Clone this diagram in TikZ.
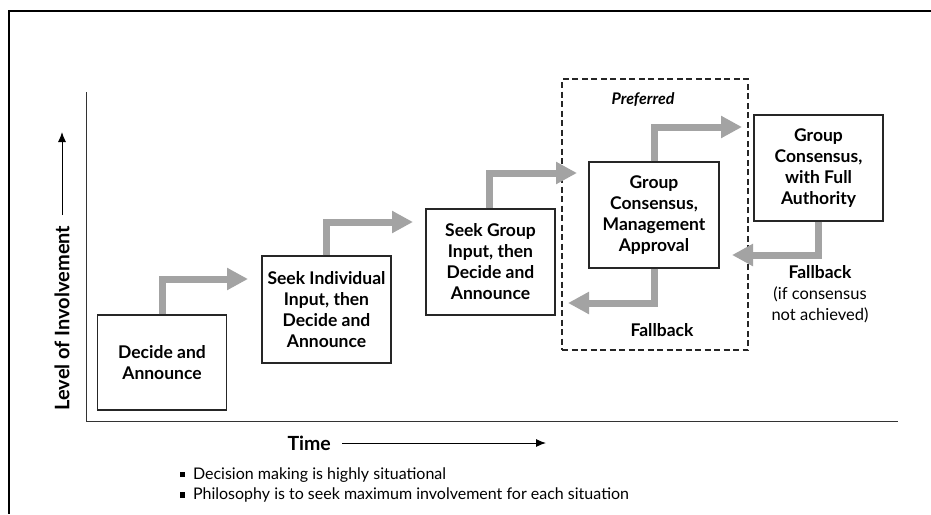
\documentclass[tikz,border=0pt]{standalone}
\usepackage{fontspec}
\setmainfont{Lato}
\usetikzlibrary{arrows.meta}
\begin{document}
\begin{tikzpicture}[x=1pt,y=-1pt,
  stepbox/.style={draw=black!85,line width=1.1pt,fill=white,align=center,
    inner sep=0pt,font=\fontsize{17.5}{21}\selectfont\bfseries},
  flow/.style={draw=black!36,line width=7pt,
    -{Triangle[length=21pt,width=21pt]}},
  axis/.style={draw=black!80,line width=1pt},
  lbl/.style={font=\fontsize{17.5}{21}\selectfont\bfseries,align=center},
  note/.style={font=\fontsize{16}{20}\selectfont,anchor=west}]
\useasboundingbox (0,0) rectangle (931,514);

% outer frame
\draw[line width=2.6pt] (931,11) -- (9,11) -- (9,514);

% axes
\draw[axis] (86,92) -- (86,421) -- (898,421);

% axis labels
\node[font=\fontsize{20}{22}\selectfont\bfseries,rotate=90,anchor=west] (ylbl) at (62,414) {Level of Involvement};
\coordinate (ytip) at (ylbl.east |- 0,132);
\draw[line width=1pt,-{Latex[length=10pt,width=8pt]}] ([yshift=7pt]ylbl.east) -- (ytip);
\node[font=\fontsize{19.5}{21}\selectfont\bfseries,anchor=west] (xlbl) at (284,443) {Time};
\coordinate (xtip) at (546,443);
\draw[line width=1pt,-{Latex[length=10pt,width=8pt]}] ([xshift=8pt]xlbl.east) -- (xtip);

% decision styles
\node[stepbox,minimum width=129pt,minimum height=95pt] (s1) at (162,362.5)
  {Decide and\\Announce};
\node[stepbox,minimum width=129pt,minimum height=107pt] (s2) at (326.5,309.5)
  {Seek Individual\\Input, then\\Decide and\\Announce};
\node[stepbox,minimum width=129pt,minimum height=106pt] (s3) at (490.5,262)
  {Seek Group\\Input, then\\Decide and\\Announce};
\node[stepbox,minimum width=130pt,minimum height=106pt] (s4) at (654,215)
  {Group\\Consensus,\\Management\\Approval};
\node[stepbox,minimum width=129pt,minimum height=106pt] (s5) at (818.5,168)
  {Group\\Consensus,\\with Full\\Authority};

% preferred region
\node[draw=black!85,dash pattern=on 6pt off 3.5pt,line width=1.2pt,minimum width=186pt,minimum height=271pt]
  (pref) at (655,214.5) {};
\node[font=\fontsize{16}{19}\selectfont\bfseries\itshape] (preftxt) at (643,100) {Preferred};
\node[lbl] (fb1) at (662,330) {Fallback};
\node[lbl] (fb2) at (820,272) {Fallback};
\node[font=\fontsize{16.5}{21.5}\selectfont,align=center,anchor=north] (fbnote) at (820,283)
  {(if consensus\\not achieved)};

% step-up arrows
\coordinate (t1) at (248,279);
\coordinate (t2) at (413,222);
\coordinate (t3) at (577,173);
\coordinate (t4) at (742,127);
\draw[flow] (s1.north) |- (t1);
\draw[flow] (s2.north) |- (t2);
\draw[flow] (s3.north -| 489,0) |- (t3);
\draw[flow] (s4.north) |- (t4);

% fallback arrows
\coordinate (f1) at (568,303);
\coordinate (f2) at (732,255);
\draw[flow] (s4.south) |- (f1);
\draw[flow] (s5.south) |- (f2);

% notes
\node[note] (n1) at (176,475) {\rule[2pt]{5.5pt}{5.5pt}\hspace{8pt}Decision making is highly situational};
\node[note] (n2) at (176,495) {\rule[2pt]{5.5pt}{5.5pt}\hspace{8pt}Philosophy is to seek maximum involvement for each situation};
\end{tikzpicture}
\end{document}
